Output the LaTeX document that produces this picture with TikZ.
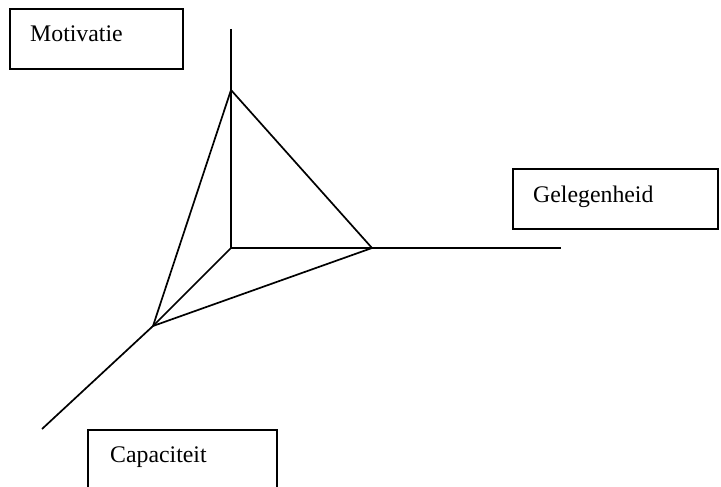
\documentclass[tikz,border=0pt]{standalone}
\usepackage{fontspec}
\setmainfont{Liberation Serif}
\begin{document}
\begin{tikzpicture}[x=1pt,y=-1pt,
  axisline/.style={line width=1.7pt},
  boxframe/.style={draw,line width=1.5pt,rectangle,inner sep=0pt},
  lbl/.style={font=\fontsize{23.8}{28}\selectfont,inner sep=0pt,anchor=base west}]
\useasboundingbox (0,0) rectangle (721,487);
\clip (0,0) rectangle (721,487);
% boxes
\node[boxframe,minimum width=173pt,minimum height=60pt] (motbox) at (96.5,39) {};
\node[lbl] (motlbl) at (30,42) {Motivatie};
\node[boxframe,minimum width=205pt,minimum height=60pt] (gelbox) at (615.5,199) {};
\node[lbl] (gellbl) at (533,202) {Gelegenheid};
\node[boxframe,minimum width=189pt,minimum height=80pt] (capbox) at (182.5,470) {};
\node[lbl] (caplbl) at (110,462) {Capaciteit};
% axes
\coordinate (O) at (231,248);
\coordinate (top) at (231,29);
\coordinate (right) at (561,248);
\coordinate (diag) at (42,429);
\coordinate (A) at (231,90);
\coordinate (B) at (372,248);
\coordinate (C) at (153,326);
\draw[axisline] (top) -- (O) -- (right);
\draw[axisline] (O) -- (C) -- (diag);
\draw[axisline,line join=miter] (A) -- (B) -- (C) -- cycle;
\end{tikzpicture}
\end{document}
